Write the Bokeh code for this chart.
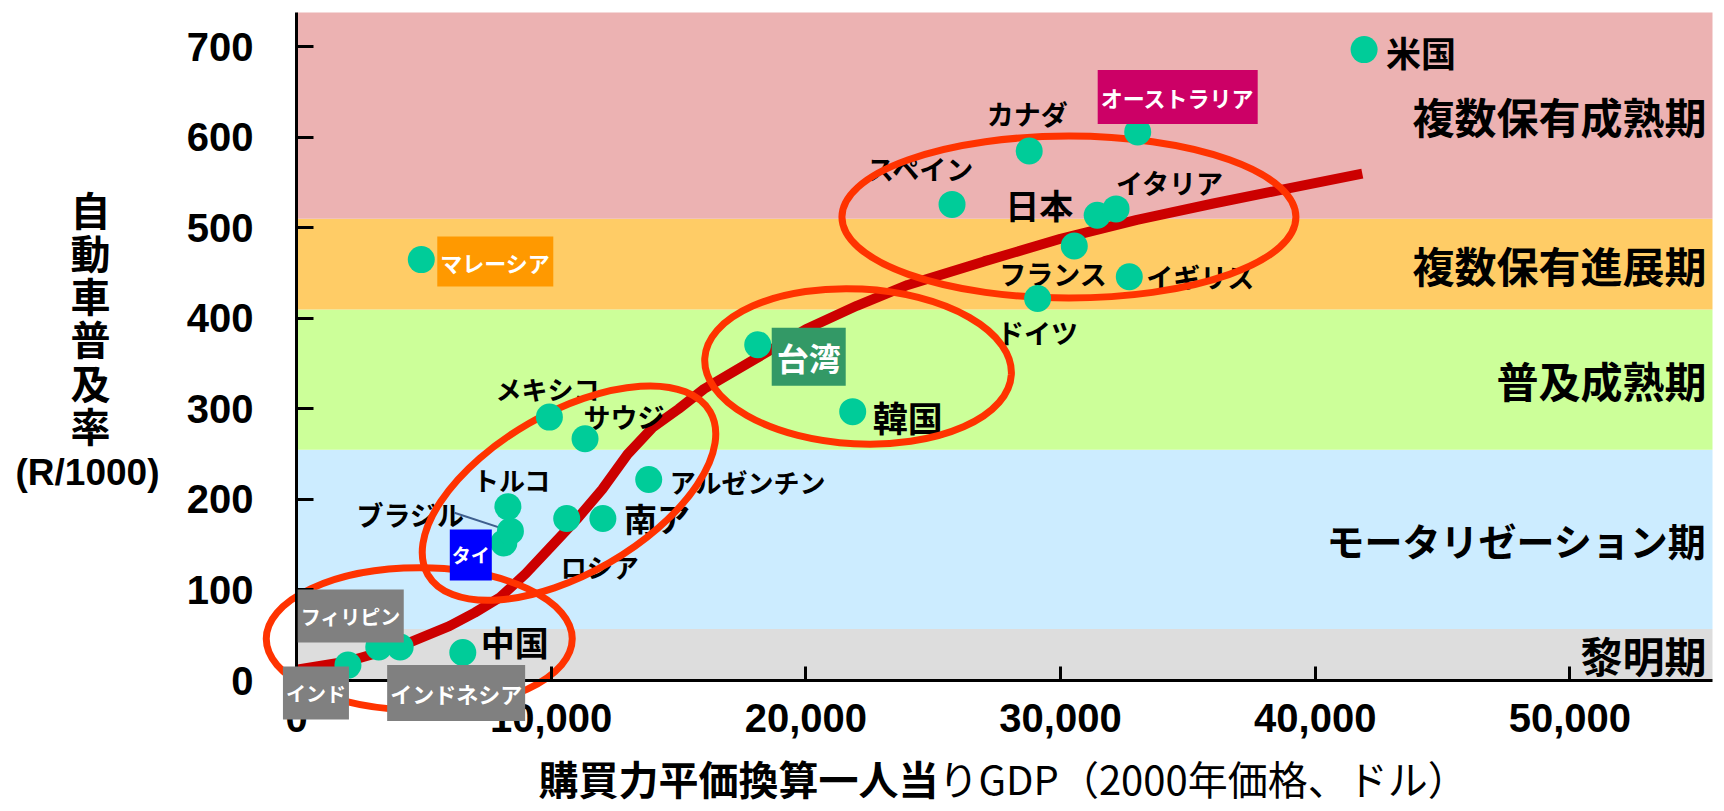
from bokeh.plotting import figure
from bokeh.models import Range1d, FixedTicker, NumeralTickFormatter, Label, ColumnDataSource
from bokeh.core.properties import value
from bokeh.embed import file_html
from bokeh.resources import INLINE
import math

# ---------------- data ----------------
countries = ["インド", "フィリピン", "インドネシア", "中国", "マレーシア", "タイ", "ブラジル",
             "トルコ", "ロシア", "南ア", "メキシコ", "サウジ", "アルゼンチン", "台湾", "韓国",
             "スペイン", "ドイツ", "カナダ", "フランス", "日本", "イタリア", "イギリス",
             "オーストラリア", "米国"]
gdp_ppp = [2020, 3230, 4070, 6530, 4900, 8140, 8400,
           8300, 10610, 12030, 9930, 11330, 13830, 18110, 21840,
           25740, 29100, 28770, 30540, 31440, 32180, 32700,
           33030, 41920]
cars_per_1000 = [17, 37, 37, 31, 465, 152, 165,
                 192, 179, 179, 291, 267, 222, 371, 297,
                 526, 422, 585, 480, 514, 521, 446,
                 606, 697]

# trend curve (S-shaped diffusion path)
trend_gdp = [0, 2000, 4000, 6000, 7000, 8000, 9000, 10000, 11000, 12000, 13000, 14000,
             15000, 16000, 18000, 20000, 22000, 24000, 27000, 30000, 33000, 36000, 39000, 41850]
trend_rate = [12, 21, 37, 60, 75, 92, 118, 148, 178, 211, 250, 280,
              300, 322, 355, 388, 414, 437, 463, 488, 509, 527, 544, 560]

# motorization stages
stage_names = ["黎明期", "モータリゼーション期", "普及成熟期", "複数保有進展期", "複数保有成熟期"]
stage_bounds = [0, 57, 255, 410, 510, 738]

x_ticks = [0, 10000, 20000, 30000, 40000, 50000]
y_ticks = [0, 100, 200, 300, 400, 500, 600, 700]

x_title_bold = "購買力平価換算一人当"
x_title_rest = "りGDP（2000年価格、ドル）"
y_title_chars = ["自", "動", "車", "普", "及", "率"]
y_title_unit = "(R/1000)"

# ---------------- layout / styling ----------------
JP = "Noto Sans CJK JP"
LAT = "Liberation Sans"
stage_colors = ["#DDDDDD", "#CCECFF", "#CCFF99", "#FFCC66", "#ECB2B2"]
stage_font = {"モータリゼーション期": "38px"}

W, H = 1724, 811
X_MAX = 55600
Y_MAX = stage_bounds[-1]
# plot area in canvas pixels
LEFT, RIGHT, TOP, BOTTOM = 296, 1712, 12, 680
SX = (RIGHT - LEFT) / X_MAX
SY = (BOTTOM - TOP) / Y_MAX


def cx(px):
    """canvas x pixel -> data x"""
    return (px - LEFT) / SX


def cy(py):
    """canvas y pixel -> data y"""
    return (BOTTOM - py) / SY


# plain labels: (dx, dy down, align, font px)
plain_layout = {
    "米国": (22, 2, "left", 35),
    "カナダ": (-2, -37, "center", 27),
    "スペイン": (-31, -36, "center", 27),
    "日本": (-24, -11, "right", 34),
    "イタリア": (0, -26, "left", 27),
    "フランス": (-21, 27, "center", 27),
    "イギリス": (17, 0, "left", 27),
    "ドイツ": (0, 34, "center", 27),
    "韓国": (20, 5, "left", 35),
    "メキシコ": (-2, -29, "center", 26),
    "サウジ": (39, -22, "center", 27),
    "トルコ": (4, -27, "center", 26),
    "ブラジル": (-46, -17, "right", 27),
    "ロシア": (33, 48, "center", 26),
    "南ア": (21, 0, "left", 33),
    "アルゼンチン": (21, 2, "left", 26),
    "中国": (18, -11, "left", 34),
}
# boxed labels: (dx, dy down, fill, font px, (horizontal pad, vertical pad))
boxed_layout = {
    "オーストラリア": (40, -35, "#CC0066", 22, (3, 11)),
    "台湾": (51, 12, "#339966", 32, (5, 6)),
    "マレーシア": (74, 2, "#FF9900", 22, (3, 9)),
    "タイ": (-33, 12, "#0000FF", 19, (2, 12)),
    "フィリピン": (-28, -31, "#808080", 20, (3, 12)),
    "インド": (-32, 28, "#808080", 20, (3, 12)),
    "インドネシア": (56, 46, "#808080", 22, (3, 12)),
}

# group rings: centre (gdp, rate), size in px, tilt in degrees
group_rings = [
    (4820, 46, 306, 142, 0),
    (10700, 207, 326, 161, 30),
    (22050, 347, 307, 155, -3),
    (30330, 512, 454, 162, 0),
]

p = figure(width=W, height=H,
           x_range=Range1d(cx(0), cx(W)), y_range=Range1d(cy(H), cy(0)),
           output_backend="svg", toolbar_location=None,
           min_border=0, min_border_left=0, min_border_right=0,
           min_border_top=0, min_border_bottom=0)
p.background_fill_color = "white"
p.border_fill_color = "white"
p.outline_line_color = None
p.xgrid.visible = False
p.ygrid.visible = False

# stage bands
p.quad(left=0, right=X_MAX, bottom=stage_bounds[:-1], top=stage_bounds[1:],
       fill_color=stage_colors, line_color=None)

# stage names, right-aligned in each band
mid = [(a + b) / 2 for a, b in zip(stage_bounds[:-1], stage_bounds[1:])]
stage_src = ColumnDataSource(dict(
    x=[X_MAX] * len(stage_names), y=mid, text=stage_names,
    size=[stage_font.get(n, "42px") for n in stage_names]))
p.text(x="x", y="y", text="text", source=stage_src, x_offset=-6,
       text_align="right", text_baseline="middle", text_font=value(JP),
       text_font_style="bold", text_font_size="size", text_color="black")

# trend curve
p.line(trend_gdp, trend_rate, line_color="#CC0000", line_width=10)

# plain country labels
idx = {c: i for i, c in enumerate(countries)}
pl = [c for c in countries if c in plain_layout]
plain_src = ColumnDataSource(dict(
    x=[gdp_ppp[idx[c]] for c in pl],
    y=[cars_per_1000[idx[c]] for c in pl],
    text=pl,
    dx=[plain_layout[c][0] for c in pl],
    dy=[plain_layout[c][1] for c in pl],
    align=[plain_layout[c][2] for c in pl],
    size=[f"{plain_layout[c][3]}px" for c in pl],
))
p.text(x="x", y="y", text="text", source=plain_src, x_offset="dx", y_offset="dy",
       text_align="align", text_baseline="middle", text_font=value(JP),
       text_font_style="bold", text_font_size="size", text_color="black")

# leader from the ブラジル label to its point
bi = idx["ブラジル"]
p.segment(x0=gdp_ppp[bi], y0=cars_per_1000[bi],
          x1=gdp_ppp[bi] - 56 / SX, y1=cars_per_1000[bi] + 18.4 / SY,
          line_color="#3F5F8F", line_width=2)

# group rings
p.ellipse(x=[r[0] for r in group_rings], y=[r[1] for r in group_rings],
          width=[r[2] for r in group_rings], height=[r[3] for r in group_rings],
          angle=[math.radians(r[4]) for r in group_rings],
          width_units="screen", height_units="screen",
          fill_color=None, line_color="#FF3300", line_width=7)

# country points
p.scatter(gdp_ppp, cars_per_1000, size=27, fill_color="#00CC99", line_color=None)

# boxed country labels
for c, (dx, dy, fill, fs, pad) in boxed_layout.items():
    i = idx[c]
    p.add_layout(Label(x=gdp_ppp[i], y=cars_per_1000[i], x_offset=dx, y_offset=-dy,
                       text=c, text_align="center", text_baseline="middle",
                       text_font=JP, text_font_style="bold", text_font_size=f"{fs}px",
                       text_color="white", background_fill_color=fill,
                       background_fill_alpha=1.0, padding=pad))

# axes, pinned to the origin of the data space
for ax in (p.xaxis[0], p.yaxis[0]):
    ax.fixed_location = 0
    ax.axis_line_width = 3
    ax.axis_line_color = "black"
    ax.major_tick_line_width = 3
    ax.major_tick_line_color = "black"
    ax.major_tick_out = 0
    ax.minor_tick_line_color = None
    ax.major_label_text_font = LAT
    ax.major_label_text_font_style = "bold"
    ax.major_label_text_font_size = "40px"
    ax.major_label_text_color = "black"

p.xaxis.bounds = (0, X_MAX)
p.xaxis.ticker = FixedTicker(ticks=x_ticks)
p.xaxis.formatter = NumeralTickFormatter(format="0,0")
p.xaxis.major_tick_in = 14
p.xaxis.major_label_standoff = 23

p.yaxis.bounds = (0, Y_MAX)
p.yaxis.ticker = FixedTicker(ticks=y_ticks)
p.yaxis.major_tick_in = 17
p.yaxis.major_label_standoff = 43

# axis titles
p.text(x=[cx(938)], y=[cy(777)], text=[x_title_bold], text_align="right",
       text_baseline="middle", text_font=value(JP), text_font_style="bold",
       text_font_size="40px", text_color="black")
p.text(x=[cx(938)], y=[cy(777)], text=[x_title_rest], text_align="left",
       text_baseline="middle", text_font=value(JP), text_font_style="normal",
       text_font_size="40px", text_color="black")
p.text(x=[cx(90)] * len(y_title_chars),
       y=[cy(208 + 43.3 * k) for k in range(len(y_title_chars))],
       text=y_title_chars, text_align="center", text_baseline="middle",
       text_font=value(JP), text_font_style="bold", text_font_size="40px",
       text_color="black")
p.text(x=[cx(87)], y=[cy(472)], text=[y_title_unit], text_align="center",
       text_baseline="middle", text_font=value(LAT), text_font_style="bold",
       text_font_size="37px", text_color="black")

open("out.html", "w").write(file_html(p, INLINE))
